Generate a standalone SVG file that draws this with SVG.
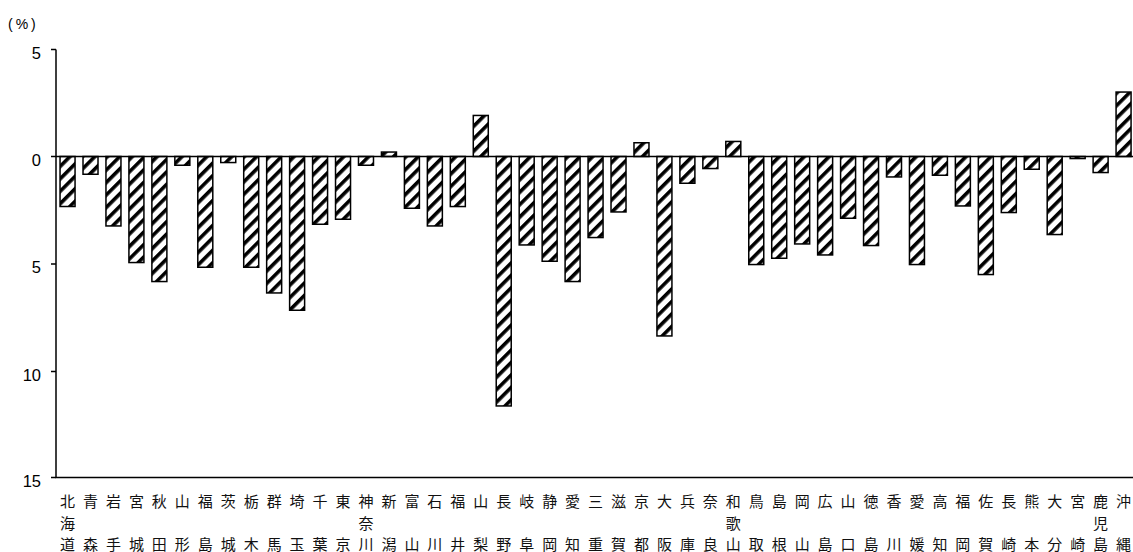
<svg xmlns="http://www.w3.org/2000/svg" width="1133" height="552" viewBox="0 0 1133 552">
<defs>
<pattern id="hatch" patternUnits="userSpaceOnUse" width="8.8" height="8.8" patternTransform="rotate(45)">
<rect width="8.8" height="8.8" fill="#fff"/>
<rect width="3.6" height="8.8" fill="#000"/>
</pattern>
</defs>
<style>
.bar{fill:url(#hatch);stroke:#000;stroke-width:1.5}
.ax{stroke:#000;stroke-width:1.5;fill:none}
.tk{font-family:"Liberation Sans",Arial,sans-serif;font-size:16.5px;fill:#000;text-anchor:end}
.unit{font-family:"Liberation Sans",Arial,sans-serif;font-size:14px;fill:#000;letter-spacing:3px}
.lb{font-family:"Noto Sans CJK JP","Noto Sans CJK SC",sans-serif;font-size:15px;fill:#111;text-anchor:middle}
</style>
<rect width="1133" height="552" fill="#fff"/>
<text class="unit" x="8" y="29">(%)</text>
<g id="axis-labels">
<text class="tk" x="41" y="58.5">5</text>
<text class="tk" x="41" y="165.5">0</text>
<text class="tk" x="41" y="273">5</text>
<text class="tk" x="41" y="380.5">10</text>
<text class="tk" x="41" y="487">15</text>
</g>
<g id="bars">
<g id="p01"><rect class="bar" x="60.05" y="156.5" width="15" height="50"/><text class="lb"><tspan x="67.55" y="507">北</tspan><tspan x="67.55" y="528.5">海</tspan><tspan x="67.55" y="550">道</tspan></text></g>
<g id="p02"><rect class="bar" x="83.01" y="156.5" width="15" height="17.75"/><text class="lb"><tspan x="90.51" y="507">青</tspan><tspan x="90.51" y="550">森</tspan></text></g>
<g id="p03"><rect class="bar" x="105.96" y="156.5" width="15" height="69.45"/><text class="lb"><tspan x="113.46" y="507">岩</tspan><tspan x="113.46" y="550">手</tspan></text></g>
<g id="p04"><rect class="bar" x="128.92" y="156.5" width="15" height="106.05"/><text class="lb"><tspan x="136.42" y="507">宮</tspan><tspan x="136.42" y="550">城</tspan></text></g>
<g id="p05"><rect class="bar" x="151.88" y="156.5" width="15" height="125.05"/><text class="lb"><tspan x="159.38" y="507">秋</tspan><tspan x="159.38" y="550">田</tspan></text></g>
<g id="p06"><rect class="bar" x="174.84" y="156.5" width="15" height="8.75"/><text class="lb"><tspan x="182.34" y="507">山</tspan><tspan x="182.34" y="550">形</tspan></text></g>
<g id="p07"><rect class="bar" x="197.79" y="156.5" width="15" height="110.75"/><text class="lb"><tspan x="205.29" y="507">福</tspan><tspan x="205.29" y="550">島</tspan></text></g>
<g id="p08"><rect class="bar" x="220.75" y="156.5" width="15" height="6.05"/><text class="lb"><tspan x="228.25" y="507">茨</tspan><tspan x="228.25" y="550">城</tspan></text></g>
<g id="p09"><rect class="bar" x="243.71" y="156.5" width="15" height="110.75"/><text class="lb"><tspan x="251.21" y="507">栃</tspan><tspan x="251.21" y="550">木</tspan></text></g>
<g id="p10"><rect class="bar" x="266.66" y="156.5" width="15" height="136.45"/><text class="lb"><tspan x="274.16" y="507">群</tspan><tspan x="274.16" y="550">馬</tspan></text></g>
<g id="p11"><rect class="bar" x="289.62" y="156.5" width="15" height="153.75"/><text class="lb"><tspan x="297.12" y="507">埼</tspan><tspan x="297.12" y="550">玉</tspan></text></g>
<g id="p12"><rect class="bar" x="312.58" y="156.5" width="15" height="67.75"/><text class="lb"><tspan x="320.08" y="507">千</tspan><tspan x="320.08" y="550">葉</tspan></text></g>
<g id="p13"><rect class="bar" x="335.53" y="156.5" width="15" height="62.75"/><text class="lb"><tspan x="343.03" y="507">東</tspan><tspan x="343.03" y="550">京</tspan></text></g>
<g id="p14"><rect class="bar" x="358.49" y="156.5" width="15" height="8.75"/><text class="lb"><tspan x="365.99" y="507">神</tspan><tspan x="365.99" y="528.5">奈</tspan><tspan x="365.99" y="550">川</tspan></text></g>
<g id="p15"><rect class="bar" x="381.45" y="152.05" width="15" height="4.45"/><text class="lb"><tspan x="388.95" y="507">新</tspan><tspan x="388.95" y="550">潟</tspan></text></g>
<g id="p16"><rect class="bar" x="404.41" y="156.5" width="15" height="51.75"/><text class="lb"><tspan x="411.91" y="507">富</tspan><tspan x="411.91" y="550">山</tspan></text></g>
<g id="p17"><rect class="bar" x="427.36" y="156.5" width="15" height="69.45"/><text class="lb"><tspan x="434.86" y="507">石</tspan><tspan x="434.86" y="550">川</tspan></text></g>
<g id="p18"><rect class="bar" x="450.32" y="156.5" width="15" height="50.05"/><text class="lb"><tspan x="457.82" y="507">福</tspan><tspan x="457.82" y="550">井</tspan></text></g>
<g id="p19"><rect class="bar" x="473.28" y="115.45" width="15" height="41.05"/><text class="lb"><tspan x="480.78" y="507">山</tspan><tspan x="480.78" y="550">梨</tspan></text></g>
<g id="p20"><rect class="bar" x="496.23" y="156.5" width="15" height="249.45"/><text class="lb"><tspan x="503.73" y="507">長</tspan><tspan x="503.73" y="550">野</tspan></text></g>
<g id="p21"><rect class="bar" x="519.19" y="156.5" width="15" height="88.45"/><text class="lb"><tspan x="526.69" y="507">岐</tspan><tspan x="526.69" y="550">阜</tspan></text></g>
<g id="p22"><rect class="bar" x="542.15" y="156.5" width="15" height="104.75"/><text class="lb"><tspan x="549.65" y="507">静</tspan><tspan x="549.65" y="550">岡</tspan></text></g>
<g id="p23"><rect class="bar" x="565.1" y="156.5" width="15" height="125.05"/><text class="lb"><tspan x="572.6" y="507">愛</tspan><tspan x="572.6" y="550">知</tspan></text></g>
<g id="p24"><rect class="bar" x="588.06" y="156.5" width="15" height="81.05"/><text class="lb"><tspan x="595.56" y="507">三</tspan><tspan x="595.56" y="550">重</tspan></text></g>
<g id="p25"><rect class="bar" x="611.02" y="156.5" width="15" height="55.45"/><text class="lb"><tspan x="618.52" y="507">滋</tspan><tspan x="618.52" y="550">賀</tspan></text></g>
<g id="p26"><rect class="bar" x="633.98" y="142.75" width="15" height="13.75"/><text class="lb"><tspan x="641.48" y="507">京</tspan><tspan x="641.48" y="550">都</tspan></text></g>
<g id="p27"><rect class="bar" x="656.93" y="156.5" width="15" height="179.45"/><text class="lb"><tspan x="664.43" y="507">大</tspan><tspan x="664.43" y="550">阪</tspan></text></g>
<g id="p28"><rect class="bar" x="679.89" y="156.5" width="15" height="26.75"/><text class="lb"><tspan x="687.39" y="507">兵</tspan><tspan x="687.39" y="550">庫</tspan></text></g>
<g id="p29"><rect class="bar" x="702.85" y="156.5" width="15" height="12.05"/><text class="lb"><tspan x="710.35" y="507">奈</tspan><tspan x="710.35" y="550">良</tspan></text></g>
<g id="p30"><rect class="bar" x="725.8" y="141.45" width="15" height="15.05"/><text class="lb"><tspan x="733.3" y="507">和</tspan><tspan x="733.3" y="528.5">歌</tspan><tspan x="733.3" y="550">山</tspan></text></g>
<g id="p31"><rect class="bar" x="748.76" y="156.5" width="15" height="108.05"/><text class="lb"><tspan x="756.26" y="507">鳥</tspan><tspan x="756.26" y="550">取</tspan></text></g>
<g id="p32"><rect class="bar" x="771.72" y="156.5" width="15" height="101.75"/><text class="lb"><tspan x="779.22" y="507">島</tspan><tspan x="779.22" y="550">根</tspan></text></g>
<g id="p33"><rect class="bar" x="794.67" y="156.5" width="15" height="87.45"/><text class="lb"><tspan x="802.17" y="507">岡</tspan><tspan x="802.17" y="550">山</tspan></text></g>
<g id="p34"><rect class="bar" x="817.63" y="156.5" width="15" height="98.45"/><text class="lb"><tspan x="825.13" y="507">広</tspan><tspan x="825.13" y="550">島</tspan></text></g>
<g id="p35"><rect class="bar" x="840.59" y="156.5" width="15" height="61.75"/><text class="lb"><tspan x="848.09" y="507">山</tspan><tspan x="848.09" y="550">口</tspan></text></g>
<g id="p36"><rect class="bar" x="863.55" y="156.5" width="15" height="89.05"/><text class="lb"><tspan x="871.05" y="507">徳</tspan><tspan x="871.05" y="550">島</tspan></text></g>
<g id="p37"><rect class="bar" x="886.5" y="156.5" width="15" height="20.45"/><text class="lb"><tspan x="894" y="507">香</tspan><tspan x="894" y="550">川</tspan></text></g>
<g id="p38"><rect class="bar" x="909.46" y="156.5" width="15" height="108.05"/><text class="lb"><tspan x="916.96" y="507">愛</tspan><tspan x="916.96" y="550">媛</tspan></text></g>
<g id="p39"><rect class="bar" x="932.42" y="156.5" width="15" height="18.75"/><text class="lb"><tspan x="939.92" y="507">高</tspan><tspan x="939.92" y="550">知</tspan></text></g>
<g id="p40"><rect class="bar" x="955.37" y="156.5" width="15" height="49.45"/><text class="lb"><tspan x="962.87" y="507">福</tspan><tspan x="962.87" y="550">岡</tspan></text></g>
<g id="p41"><rect class="bar" x="978.33" y="156.5" width="15" height="118.05"/><text class="lb"><tspan x="985.83" y="507">佐</tspan><tspan x="985.83" y="550">賀</tspan></text></g>
<g id="p42"><rect class="bar" x="1001.29" y="156.5" width="15" height="56.05"/><text class="lb"><tspan x="1008.79" y="507">長</tspan><tspan x="1008.79" y="550">崎</tspan></text></g>
<g id="p43"><rect class="bar" x="1024.24" y="156.5" width="15" height="12.75"/><text class="lb"><tspan x="1031.74" y="507">熊</tspan><tspan x="1031.74" y="550">本</tspan></text></g>
<g id="p44"><rect class="bar" x="1047.2" y="156.5" width="15" height="78.05"/><text class="lb"><tspan x="1054.7" y="507">大</tspan><tspan x="1054.7" y="550">分</tspan></text></g>
<g id="p45"><rect class="bar" x="1070.16" y="156.5" width="15" height="2.05"/><text class="lb"><tspan x="1077.66" y="507">宮</tspan><tspan x="1077.66" y="550">崎</tspan></text></g>
<g id="p46"><rect class="bar" x="1093.12" y="156.5" width="15" height="16.05"/><text class="lb"><tspan x="1100.62" y="507">鹿</tspan><tspan x="1100.62" y="528.5">児</tspan><tspan x="1100.62" y="550">島</tspan></text></g>
<g id="p47"><rect class="bar" x="1116.07" y="92.05" width="15" height="64.45"/><text class="lb"><tspan x="1123.57" y="507">沖</tspan><tspan x="1123.57" y="550">縄</tspan></text></g>
</g>
<g id="connectors">
<path class="ax" d="M56 49.5V477.5H1133"/>
<path class="ax" d="M51 49.5H56M51 264H56M51 371.5H56M51 477.5H56"/>
<path class="ax" d="M51 156.5H1133"/>
</g>
</svg>
